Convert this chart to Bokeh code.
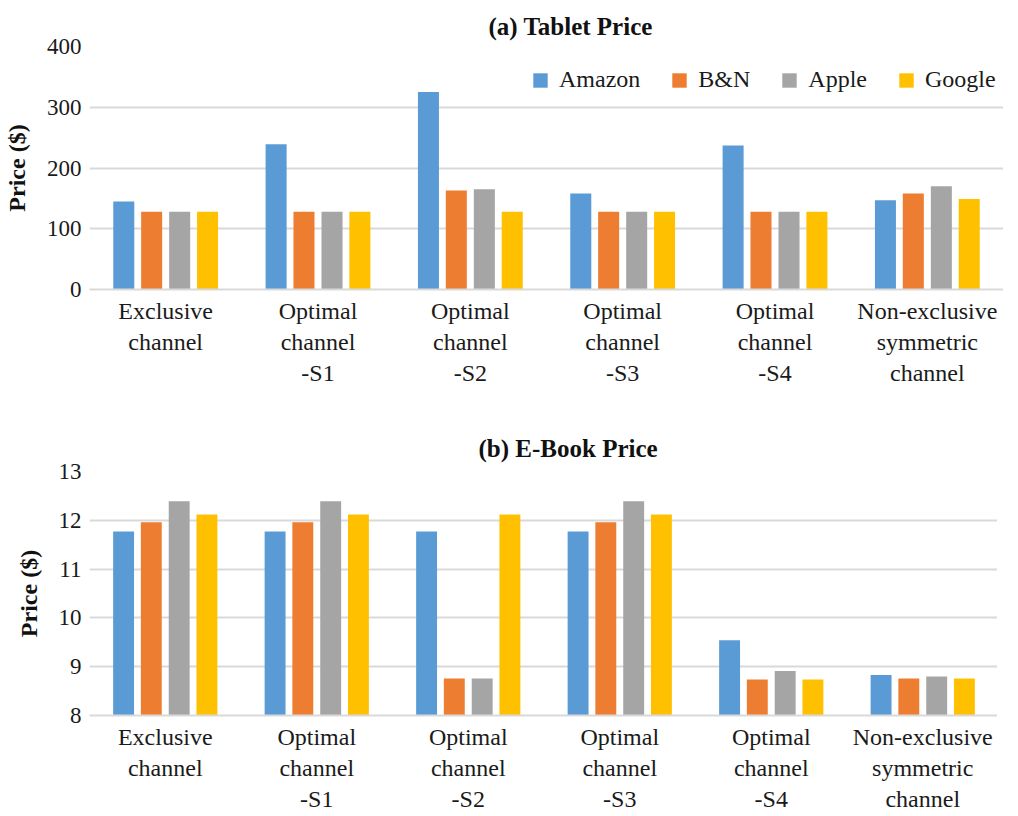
from bokeh.plotting import figure
from bokeh.models import ColumnDataSource, FactorRange, Range1d, Legend, LegendItem, SingleIntervalTicker
from bokeh.layouts import column
from bokeh.transform import dodge
from bokeh.embed import file_html
from bokeh.resources import INLINE

categories = ["Exclusive\nchannel", "Optimal\nchannel\n-S1", "Optimal\nchannel\n-S2",
              "Optimal\nchannel\n-S3", "Optimal\nchannel\n-S4", "Non-exclusive\nsymmetric\nchannel"]
series = ["Amazon", "B&N", "Apple", "Google"]
colors = ["#5B9BD5", "#ED7D31", "#A5A5A5", "#FFC000"]

tablet_amazon = [145, 239, 325, 158, 237, 147]
tablet_bn = [128, 128, 163, 128, 128, 158]
tablet_apple = [128, 128, 165, 128, 128, 170]
tablet_google = [128, 128, 128, 128, 128, 149]

ebook_amazon = [11.77, 11.77, 11.77, 11.77, 9.54, 8.83]
ebook_bn = [11.96, 11.96, 8.76, 11.96, 8.74, 8.76]
ebook_apple = [12.39, 12.39, 8.76, 12.39, 8.91, 8.80]
ebook_google = [12.12, 12.12, 12.12, 12.12, 8.74, 8.76]

FONT = "Liberation Serif"
TXT = "#1a1a1a"
GRID = "#d9d9d9"
offsets = [-0.275, -0.092, 0.092, 0.275]
BAR_W = 0.138


def make_chart(title, values, y0, y1, ystep, frame_w, frame_h, top_border, bottom_border,
               title_standoff, title_offset, legend=False):
    src = ColumnDataSource(dict(cat=categories, s0=values[0], s1=values[1], s2=values[2], s3=values[3]))
    p = figure(x_range=FactorRange(*categories), y_range=Range1d(y0, y1),
               frame_width=frame_w, frame_height=frame_h,
               output_backend="svg", toolbar_location=None,
               min_border_left=88, min_border_right=0,
               min_border_top=top_border, min_border_bottom=bottom_border)
    p.outline_line_color = None
    p.title.text = title
    p.title.text_font = FONT
    p.title.text_font_size = "25px"
    p.title.text_font_style = "bold"
    p.title.text_color = "#111111"
    p.title.align = "left"
    p.title.offset = title_offset
    p.title.standoff = title_standoff

    renderers = []
    for i, key in enumerate(["s0", "s1", "s2", "s3"]):
        r = p.vbar(x=dodge("cat", offsets[i], range=p.x_range), top=key, bottom=y0,
                   width=BAR_W, source=src, fill_color=colors[i], line_color=None)
        renderers.append(r)

    p.xgrid.grid_line_color = None
    p.ygrid.grid_line_color = GRID
    p.ygrid.grid_line_width = 2
    p.yaxis.ticker = SingleIntervalTicker(interval=ystep)
    p.yaxis.axis_line_color = None
    p.yaxis.major_tick_line_color = None
    p.yaxis.minor_tick_line_color = None
    p.yaxis.major_label_text_font = FONT
    p.yaxis.major_label_text_font_size = "23px"
    p.yaxis.major_label_text_color = TXT
    p.yaxis.major_label_standoff = 2
    p.yaxis.axis_label = "Price ($)"
    p.yaxis.axis_label_text_font = FONT
    p.yaxis.axis_label_text_font_size = "24px"
    p.yaxis.axis_label_text_font_style = "bold"
    p.yaxis.axis_label_text_color = "#111111"
    p.yaxis.axis_label_standoff = 14

    p.xaxis.axis_line_color = GRID
    p.xaxis.axis_line_width = 2
    p.xaxis.major_tick_line_color = None
    p.xaxis.minor_tick_line_color = None
    p.xaxis.major_label_text_font = FONT
    p.xaxis.major_label_text_font_size = "24px"
    p.xaxis.major_label_text_color = TXT
    p.xaxis.major_label_text_line_height = 1.2
    p.xaxis.major_label_standoff = 2
    p.x_range.range_padding = 0

    if legend:
        lg = Legend(items=[LegendItem(label=series[i], renderers=[renderers[i]]) for i in range(4)],
                    orientation="horizontal", location=(442, 196))
        lg.label_text_font = FONT
        lg.label_text_font_size = "24px"
        lg.label_text_color = TXT
        lg.glyph_width = 18
        lg.glyph_height = 18
        lg.label_standoff = 10
        lg.spacing = 30
        lg.padding = 0
        lg.margin = 0
        lg.border_line_color = None
        lg.background_fill_alpha = 0
        p.add_layout(lg)
    return p


p1 = make_chart("(a) Tablet Price", [tablet_amazon, tablet_bn, tablet_apple, tablet_google],
                0, 400, 100, 914, 243, 46, 113, 13, 399, legend=True)
p2 = make_chart("(b) E-Book Price", [ebook_amazon, ebook_bn, ebook_apple, ebook_google],
                8, 13, 1, 909, 244, 69, 90, 20, 389)

p = column(p1, p2)
open("out.html", "w").write(file_html(p, INLINE))
